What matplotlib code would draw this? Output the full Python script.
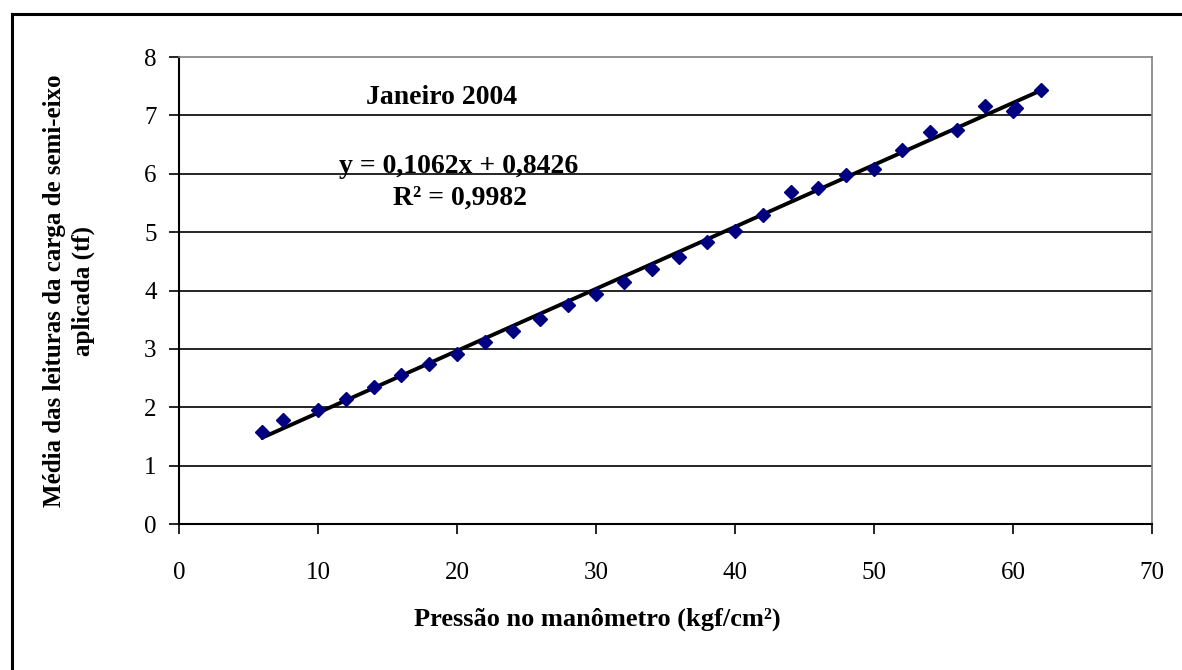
import numpy as np
import matplotlib
matplotlib.use("Agg")
import matplotlib.pyplot as plt
from matplotlib.lines import Line2D

# leituras (pressão kgf/cm², carga média tf)
pressao = [6, 7.5, 10, 12, 14, 16, 18, 20, 22, 24, 26, 28, 30, 32, 34, 36, 38, 40,
           42, 44, 46, 48, 50, 52, 54, 56, 58, 60, 60.2, 62]
carga = [1.58, 1.78, 1.95, 2.14, 2.35, 2.56, 2.74, 2.92, 3.11, 3.31, 3.52, 3.75, 3.94,
         4.15, 4.37, 4.58, 4.83, 5.02, 5.29, 5.68, 5.75, 5.98, 6.09, 6.41, 6.71, 6.75,
         7.16, 7.08, 7.12, 7.43]

# linha de tendência do Excel
coef_a = 0.1062
coef_b = 0.8426
r2 = 0.9982

plt.rcParams['font.family'] = ['Liberation Serif', 'DejaVu Serif']

fig = plt.figure(figsize=(11.82, 6.70), dpi=100)
ax = fig.add_axes([0.1514, 0.2179, 0.8232, 0.6970])

# grade horizontal
for yv in range(1, 8):
    ax.axhline(yv, color='black', lw=1.2, zorder=1)

xt = np.array([min(pressao), max(pressao)])
ax.plot(xt, coef_a * xt + coef_b, color='black', lw=2.8, zorder=2)
ax.plot(pressao, carga, linestyle='none', marker='D', markersize=7.5,
        color='#000080', zorder=3)

ax.set_xlim(0, 70)
ax.set_ylim(0, 8)
ax.set_xticks(range(0, 71, 10))
ax.set_yticks(range(0, 9))
ax.tick_params(direction='out', length=7, width=1.2, labelsize=18)
ax.tick_params(axis='x', pad=20)
ax.tick_params(axis='y', pad=9)

for s in ['top', 'right']:
    ax.spines[s].set_color('#808080')
    ax.spines[s].set_linewidth(1.2)
for s in ['left', 'bottom']:
    ax.spines[s].set_linewidth(1.5)

ax.set_xlabel('Pressão no manômetro (kgf/cm²)', fontsize=19, fontweight='bold', va='center')
ax.xaxis.set_label_coords(0.43, -0.205)
ax.set_ylabel('Média das leituras da carga de semi-eixo\naplicada (tf)', fontsize=18,
              fontweight='bold', linespacing=1.3, va='center')
ax.yaxis.set_label_coords(-0.113, 0.5)

ax.text(18.9, 7.31, 'Janeiro 2004', fontsize=20, fontweight='bold', ha='center', va='center')
ax.text(20.1, 6.13, 'y = {:.4f}x + {:.4f}'.format(coef_a, coef_b).replace('.', ','),
        fontsize=20, fontweight='bold', ha='center', va='center')
ax.text(20.2, 5.58, 'R² = {:.4f}'.format(r2).replace('.', ','),
        fontsize=20, fontweight='bold', ha='center', va='center')

# moldura externa do gráfico
fig.add_artist(Line2D([12 / 1182, 12 / 1182], [1 - 14 / 670, 0], color='black', lw=2.2))
fig.add_artist(Line2D([12 / 1182, 1], [1 - 14 / 670, 1 - 14 / 670], color='black', lw=2.2))

fig.savefig('out.png', dpi=100)
